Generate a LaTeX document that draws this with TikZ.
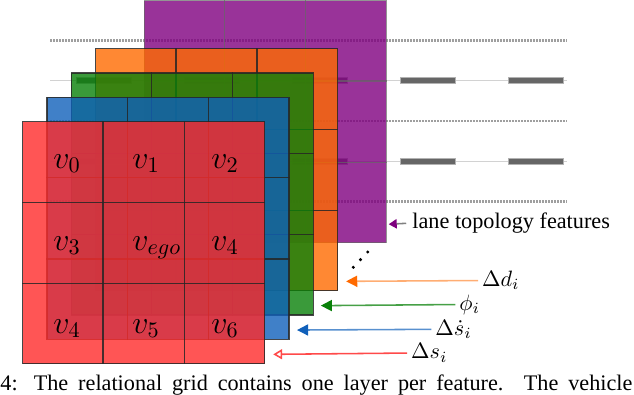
\documentclass[tikz,border=0pt]{standalone}
\usepackage[no-math]{fontspec}
\setmainfont{Liberation Serif}
\definecolor{layerRed}{HTML}{FF2A2A}
\definecolor{layerBlue}{HTML}{1060BA}
\definecolor{layerGreen}{HTML}{098109}
\definecolor{layerOrange}{HTML}{FF6A00}
\definecolor{layerPurple}{HTML}{7F007F}
\usetikzlibrary{arrows.meta, positioning, calc}

% one feature layer: options, name, colour, x, y (top left)
\newcommand{\gridlayer}[5][]{%
  \node[layer, fill=#3, #1] (#2) at (#4,#5) {};
  \foreach \f in {0.3333,0.6667} {
    \draw[cellline, #1] ($(#2.north west)!\f!(#2.north east)$) -- ($(#2.south west)!\f!(#2.south east)$);
    \draw[cellline, #1] ($(#2.north west)!\f!(#2.south west)$) -- ($(#2.north east)!\f!(#2.south east)$);
  }
}

\begin{document}
\begin{tikzpicture}[
    x=0.45pt, y=-0.45pt,
    layer/.style={
      anchor=north west,
      minimum size=108.9pt,
      inner sep=0pt,
      fill opacity=0.8,
      draw=black!85,
      draw opacity=0.85,
      line width=0.55pt,
    },
    cellline/.style={black!85, draw opacity=0.85, line width=0.55pt},
    lanedash/.style={gray!75, line width=1.1pt, dash pattern=on 0.9pt off 0.45pt},
    lanesolid/.style={gray!35, line width=0.5pt},
    lanemark/.style={fill=black!60, draw=black!30, line width=0.25pt},
    cell/.style={anchor=base west, inner sep=0pt, font=\Large},
    feat/.style={anchor=west, inner sep=0pt},
    arr/.style={line width=0.7pt, shorten <=1.6pt},
  ]
    \useasboundingbox (0,0) rectangle (634,394);

    % lanes behind the grid
    \foreach \ly in {40.5,121,201.7}
      \draw[lanedash] (50,\ly) -- (567,\ly);
    \foreach \ly in {80.7,161.3} {
      \draw[lanesolid] (50,\ly) -- (567,\ly);
      \foreach \lx in {76,184,292,400,508}
        \path[lanemark] ({\lx},{\ly-3}) rectangle ++(55,6);
    }

    % layers, back to front
    \gridlayer[draw=black!60, draw opacity=0.7]{lyrPurple}{layerPurple}{143.5}{0}
    \gridlayer{lyrOrange}{layerOrange}{94.9}{48.1}
    \gridlayer{lyrGreen}{layerGreen}{70.6}{72.4}
    \gridlayer{lyrBlue}{layerBlue}{46.3}{96.8}
    \gridlayer{lyrRed}{layerRed}{22}{121.1}

    \node[cell] (vZero) at (53,168) {$v_0$};
    \node[cell] (vOne) at (132,168) {$v_1$};
    \node[cell] (vTwo) at (211,168) {$v_2$};
    \node[cell] (vThree) at (53,250) {$v_3$};
    \node[cell] (vEgo) at (132,250) {$v_{ego}$};
    \node[cell] (vFour) at (211,250) {$v_4$};
    \node[cell] (vFourB) at (53,333) {$v_4$};
    \node[cell] (vFive) at (132,333) {$v_5$};
    \node[cell] (vSix) at (211,333) {$v_6$};

    % skipped layers
    \foreach \p in {(353.3,267.3),(360.5,259.6),(367.7,252)}
      \fill \p circle[radius=0.75pt];

    \coordinate (tipLane) at ($(lyrPurple.south east)+(2,-19)$);
    \coordinate (tipOrange) at ($(lyrOrange.south east)+(8,-10)$);
    \coordinate (tipGreen) at ($(lyrGreen.south east)+(7,-10)$);
    \coordinate (tipBlue) at ($(lyrBlue.south east)+(7.5,-10)$);
    \coordinate (tipRed) at ($(lyrRed.south east)+(8,-10)$);

    \node[feat] (lblLane) at (412,223) {lane topology features};
    \node[feat] (lblDd) at (481.7,280.5) {$\Delta d_i$};
    \node[feat] (lblPhi) at (459,304.5) {$\phi_i$};
    \node[feat] (lblDsdot) at (435,329.3) {$\Delta\dot{s}_i$};
    \node[feat] (lblDs) at (410.7,353) {$\Delta s_i$};

    \draw[arr, gray, shorten <=2.6pt, -{Triangle[length=3.6pt, width=4.2pt, color=layerPurple]}] (lblLane.west) -- (tipLane);
    \draw[arr, layerOrange!55, -{Triangle[length=5pt, width=5pt, color=layerOrange]}] (lblDd.west) -- (tipOrange);
    \draw[arr, layerGreen!75, -{Triangle[length=5pt, width=5pt, color=layerGreen]}] (lblPhi.west) -- (tipGreen);
    \draw[arr, layerBlue!70, -{Triangle[length=5pt, width=5pt, color=layerBlue]}] (lblDsdot.west) -- (tipBlue);
    \draw[arr, layerRed!85, -{Triangle[open, length=4pt, width=4.5pt]}] (lblDs.west) -- (tipRed);

    \node[anchor=base west, inner sep=0pt] (capLine) at (0,390.5)
      {\makebox[284.4pt][s]{4: The relational grid contains one layer per feature. The vehicle}};
  \end{tikzpicture}
\end{document}
